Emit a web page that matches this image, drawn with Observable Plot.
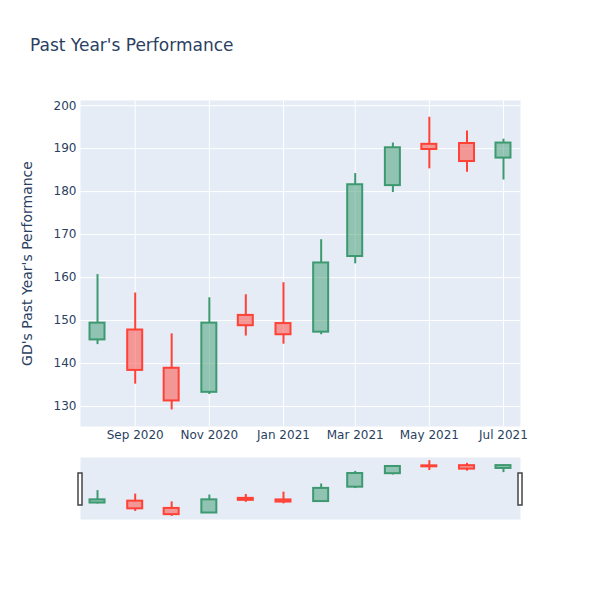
<!DOCTYPE html>
<html>
<head>
<meta charset="utf-8">
<script src="https://cdn.jsdelivr.net/npm/d3@7"></script>
<script src="https://cdn.jsdelivr.net/npm/@observablehq/plot@0.6"></script>
<style>
  html, body { margin: 0; padding: 0; background: #fff; }
  #wrap { position: relative; width: 600px; height: 600px; font-family: "DejaVu Sans", sans-serif; }
  #title { position: absolute; left: 30px; top: 35px; font-size: 17px; color: #2a3f5f; white-space: nowrap; }
  #main { position: absolute; left: 0; top: 0; }
  #slider { position: absolute; left: 0; top: 450px; }
</style>
</head>
<body>
<div id="wrap">
  <div id="main"></div>
  <div id="slider"></div>
  <div id="title">Past Year's Performance</div>
</div>
<script>
// ---- data ----
const months = ["2020-08-01","2020-09-01","2020-10-01","2020-11-01","2020-12-01","2021-01-01",
                "2021-02-01","2021-03-01","2021-04-01","2021-05-01","2021-06-01","2021-07-01"];
const open  = [145.5, 147.8, 138.9, 133.3, 151.2, 149.3, 147.3, 164.9, 181.4, 191.0, 191.2, 187.8];
const high  = [160.7, 156.4, 146.9, 155.3, 156.0, 158.8, 168.8, 184.2, 191.3, 197.3, 194.1, 192.2];
const low   = [144.4, 135.2, 129.2, 132.8, 146.4, 144.5, 146.7, 163.2, 179.8, 185.3, 184.5, 182.7];
const close = [149.4, 138.4, 131.3, 149.4, 148.8, 146.7, 163.4, 181.6, 190.2, 189.8, 187.0, 191.3];
const yTicks = [130, 140, 150, 160, 170, 180, 190, 200];
const xTickLabels = ["2020-09-01","2020-11-01","2021-01-01","2021-03-01","2021-05-01","2021-07-01"];
const xDomain = ["2020-07-18","2021-07-15"];
const yDomain = [125.35, 201.2];

const upLine = "#3D9970", downLine = "#FF4136";
const upFill = "rgba(61,153,112,0.5)", downFill = "rgba(255,65,54,0.5)";
const textColor = "#2a3f5f";

const data = months.map((m, i) => ({
  date: new Date(m), open: open[i], high: high[i], low: low[i], close: close[i],
  up: close[i] >= open[i]
}));
const xd = xDomain.map(d => new Date(d));
const xt = xTickLabels.map(d => new Date(d));

function candleMarks(sw) {
  return [
    Plot.ruleX(data, {x: "date", y1: "low", y2: d => Math.min(d.open, d.close),
      stroke: d => d.up ? upLine : downLine, strokeWidth: sw}),
    Plot.ruleX(data, {x: "date", y1: d => Math.max(d.open, d.close), y2: "high",
      stroke: d => d.up ? upLine : downLine, strokeWidth: sw}),
    Plot.rect(data, {x1: "date", x2: "date", y1: "open", y2: "close",
      insetLeft: -7.5, insetRight: -7.5,
      fill: d => d.up ? upFill : downFill, stroke: d => d.up ? upLine : downLine, strokeWidth: 2})
  ];
}

const main = Plot.plot({
  width: 600, height: 450,
  marginTop: 100, marginBottom: 24, marginLeft: 80, marginRight: 80,
  style: {fontFamily: "DejaVu Sans, sans-serif", fontSize: "12px", color: textColor, background: "transparent", overflow: "visible"},
  x: {type: "utc", domain: xd},
  y: {domain: yDomain},
  marks: [
    Plot.frame({fill: "#e5ecf6", stroke: null}),
    Plot.gridX(xt, {stroke: "#fff", strokeOpacity: 1, strokeWidth: 1}),
    Plot.gridY(yTicks, {stroke: "#fff", strokeOpacity: 1, strokeWidth: 1}),
    Plot.axisX(xt, {tickSize: 0, tickPadding: 4, tickFormat: d3.utcFormat("%b %Y"), label: null, fill: textColor, fontSize: 12}),
    Plot.axisY(yTicks, {tickSize: 0, tickPadding: 4, label: "GD's Past Year's Performance", labelAnchor: "center",
      labelArrow: "none", labelOffset: 58, fill: textColor, fontSize: 12}),
    ...candleMarks(2)
  ]
});
main.querySelectorAll("g[aria-label='y-axis label']").forEach(el => {
  el.setAttribute("font-size", "14");
});
document.getElementById("main").appendChild(main);

const slider = Plot.plot({
  width: 600, height: 150,
  marginTop: 7, marginBottom: 81, marginLeft: 80, marginRight: 80,
  style: {fontFamily: "DejaVu Sans, sans-serif", fontSize: "12px", color: textColor, background: "transparent"},
  x: {type: "utc", domain: xd, axis: null},
  y: {domain: yDomain, axis: null},
  marks: [
    Plot.frame({fill: "#e5ecf6", stroke: null}),
    ...candleMarks(2),
    Plot.rect(xd, {x1: d => d, x2: d => d, y1: () => yDomain[0], y2: () => yDomain[1],
      insetLeft: -2, insetRight: -2, insetTop: 16, insetBottom: 14,
      fill: "#fff", stroke: "#444", strokeWidth: 1.5})
  ]
});
document.getElementById("slider").appendChild(slider);
</script>
</body>
</html>
